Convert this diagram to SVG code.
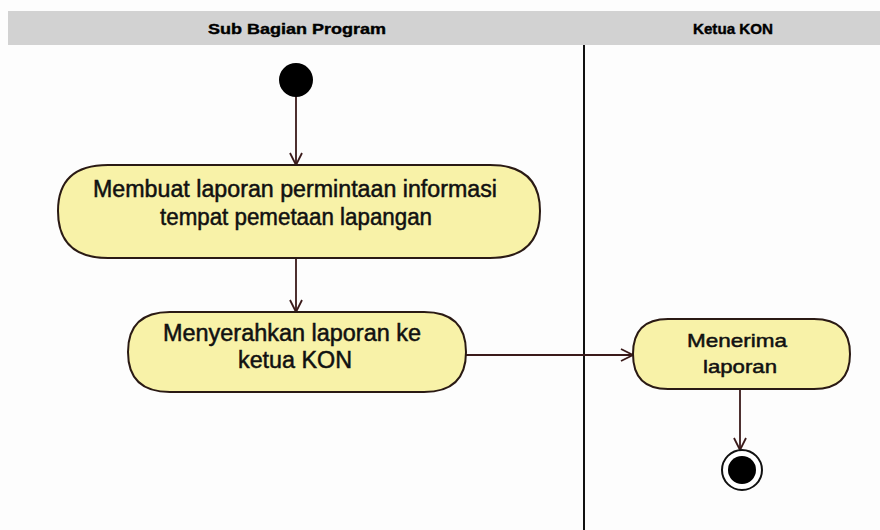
<svg xmlns="http://www.w3.org/2000/svg" width="880" height="530" viewBox="0 0 880 530">
<style>
.lane{fill:#d2d2d2}
.hdr{font-family:"Liberation Sans",Arial,sans-serif;font-weight:bold;font-size:15px;fill:#000;stroke:#000;stroke-width:0.4}
.act{fill:#f8f2a8;stroke:#2a1a14;stroke-width:2}
.t{font-family:"Liberation Sans",Arial,sans-serif;font-size:23px;fill:#111;stroke:#111;stroke-width:0.5}
.t3{font-size:19px}
.edge{stroke:#3a1a1a;stroke-width:1.8;fill:none}
</style>
<defs>
<marker id="arr" markerWidth="16" markerHeight="16" refX="14" refY="8" orient="auto" markerUnits="userSpaceOnUse">
<path d="M2,2 L14,8 L2,14" fill="none" stroke="#3a1a1a" stroke-width="1.8"/>
</marker>
</defs>
<rect x="0" y="0" width="880" height="530" fill="#fdfdfd"/>
<g id="lanes">
<rect class="lane" x="8" y="11" width="872" height="34"/>
<text class="hdr" x="297" y="34" text-anchor="middle" textLength="178" lengthAdjust="spacingAndGlyphs">Sub Bagian Program</text>
<text class="hdr" x="733" y="34" text-anchor="middle" textLength="80" lengthAdjust="spacingAndGlyphs">Ketua KON</text>
<line x1="584" y1="45" x2="584" y2="530" stroke="#111" stroke-width="2"/>
</g>
<g id="connectors">
<line class="edge" x1="296" y1="96" x2="296" y2="165" marker-end="url(#arr)"/>
<line class="edge" x1="296" y1="258" x2="296" y2="312" marker-end="url(#arr)"/>
<line class="edge" x1="466" y1="355" x2="633" y2="355" marker-end="url(#arr)"/>
<line class="edge" x1="740" y1="388" x2="740" y2="450" marker-end="url(#arr)"/>
</g>
<g id="start">
<circle cx="296" cy="80" r="17" fill="#000"/>
</g>
<g id="act1">
<path class="act" d="M108,165 L490,165 Q540,165 540,211 Q540,258 490,258 L108,258 Q58,258 58,211 Q58,165 108,165 Z"/>
<text class="t" x="295" y="197" text-anchor="middle" textLength="404" lengthAdjust="spacingAndGlyphs">Membuat laporan permintaan informasi</text>
<text class="t" x="296" y="225" text-anchor="middle" textLength="272" lengthAdjust="spacingAndGlyphs">tempat pemetaan lapangan</text>
</g>
<g id="act2">
<path class="act" d="M170,312 L424,312 Q466,312 466,352 Q466,392 424,392 L170,392 Q128,392 128,352 Q128,312 170,312 Z"/>
<text class="t" x="292" y="341" text-anchor="middle" textLength="258" lengthAdjust="spacingAndGlyphs">Menyerahkan laporan ke</text>
<text class="t" x="295" y="368" text-anchor="middle" textLength="114" lengthAdjust="spacingAndGlyphs">ketua KON</text>
</g>
<g id="act3">
<path class="act" d="M668,319 L814,319 Q850,319 850,354 Q850,389 814,389 L668,389 Q633,389 633,354 Q633,319 668,319 Z"/>
<text class="t t3" x="737" y="347" text-anchor="middle" textLength="100" lengthAdjust="spacingAndGlyphs">Menerima</text>
<text class="t t3" x="740" y="373" text-anchor="middle" textLength="74" lengthAdjust="spacingAndGlyphs">laporan</text>
</g>
<g id="end">
<circle cx="742" cy="470" r="20" fill="#fff" stroke="#111" stroke-width="2"/>
<circle cx="742" cy="470" r="14" fill="#000"/>
</g>
</svg>
